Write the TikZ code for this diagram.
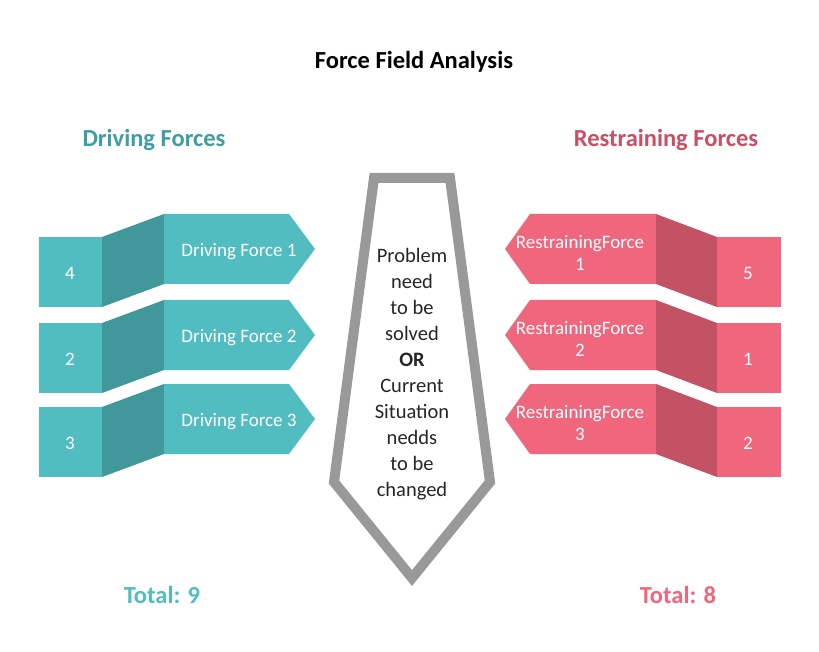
\documentclass[tikz,border=0pt]{standalone}
\usepackage{fontspec}
\setmainfont{Carlito}
\definecolor{teallight}{HTML}{52BDC1}
\definecolor{tealdark}{HTML}{41989A}
\definecolor{pinklight}{HTML}{F0677D}
\definecolor{pinkdark}{HTML}{C25264}
\definecolor{tealtitle}{HTML}{3E9FA2}
\definecolor{pinktitle}{HTML}{C94F66}
\definecolor{tiegray}{HTML}{999999}
\begin{document}
\begin{tikzpicture}[x=1pt,y=-1pt,
  numtext/.style={text=white,font=\fontsize{19}{22}\selectfont,inner sep=0pt},
  arrtext/.style={text=white,font=\fontsize{19}{22}\selectfont,inner sep=0pt,align=center},
  headtext/.style={font=\fontsize{24.5}{28}\selectfont\bfseries,inner sep=0pt},
  tietext/.style={font=\fontsize{20.5}{26}\selectfont,inner sep=0pt,align=center,text=black!85},
  tieline/.style={draw=tiegray,line width=10pt,miter limit=20}]
\useasboundingbox[fill=white] (0,0) rectangle (819,652);

\node[headtext] (title) at (414,62) {Force Field Analysis};
\node[headtext,text=tealtitle] (dhead) at (154,140) {Driving Forces};
\node[headtext,text=pinktitle] (rhead) at (666,140) {Restraining Forces};

\foreach \o/\n/\k in {0/4/1,86/2/2,170/3/3}{
  \fill[teallight] (39,237+\o) rectangle (102,307+\o);
  \fill[tealdark] (102,237+\o) -- (164,214+\o) -- (164,284+\o) -- (102,307+\o) -- cycle;
  \fill[teallight] (164,214+\o) -- (289,214+\o) -- (315,249+\o) -- (289,284+\o) -- (164,284+\o) -- cycle;
  \node[numtext] (dn\k) at (70,273.5+\o) {\n};
  \node[arrtext] (da\k) at (239,251.5+\o) {Driving Force \k};
}

\foreach \o/\n/\k in {0/5/1,86/1/2,170/2/3}{
  \fill[pinklight] (505,249+\o) -- (530,214+\o) -- (656,214+\o) -- (656,284+\o) -- (530,284+\o) -- cycle;
  \fill[pinkdark] (656,214+\o) -- (717,237+\o) -- (717,307+\o) -- (656,284+\o) -- cycle;
  \fill[pinklight] (717,237+\o) rectangle (781,307+\o);
  \node[numtext] (rn\k) at (748,273.5+\o) {\n};
  \node[arrtext] (ra\k) at (580,253+\o) {RestrainingForce\\\k};
}

\draw[tieline] (374,178) -- (450,178) -- (490,482) -- (412,578) -- (334,482) -- cycle;
\node[tietext] (problem) at (412,374) {Problem\\need\\to be\\solved\\\textbf{OR}\\Current\\Situation\\nedds\\to be\\changed};

\node[headtext,text=teallight] (dtotal) at (162,595) {Total: 9};
\node[headtext,text=pinklight] (rtotal) at (678,595) {Total: 8};
\end{tikzpicture}
\end{document}
